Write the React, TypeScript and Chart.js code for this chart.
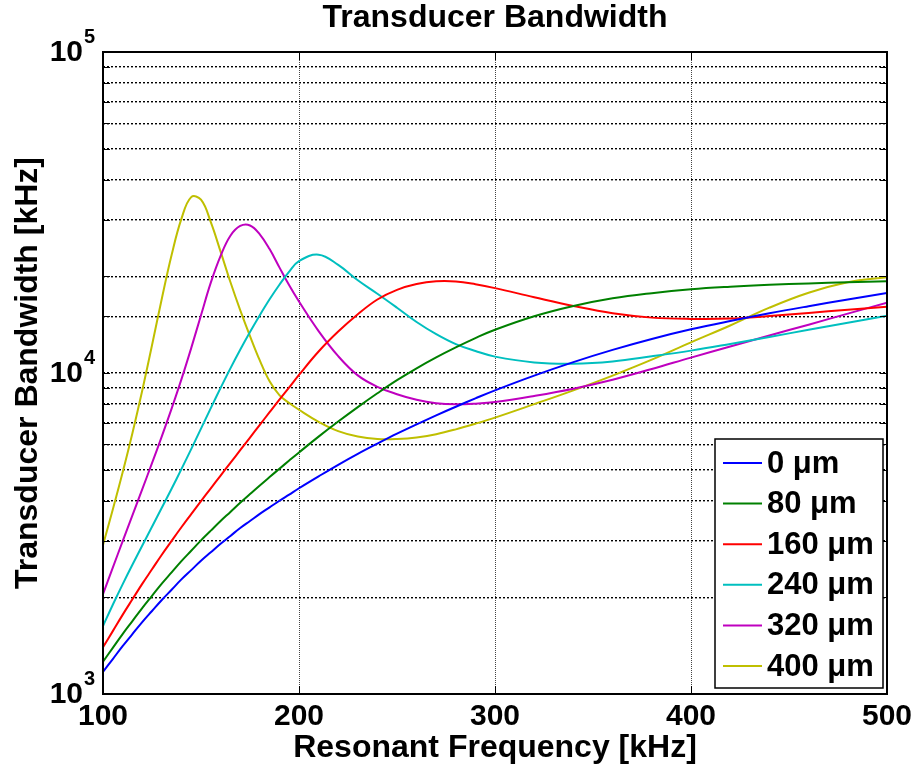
import React, { useEffect, useRef } from 'react';
import { Chart, registerables } from 'chart.js';

Chart.register(...registerables);

const FONT = "'Liberation Sans', Arial, Helvetica, sans-serif";

// Resonant frequency samples [kHz]
const freqs = [
  100, 105, 110, 115, 120, 125, 130, 135, 140, 145, 150, 155, 160, 165, 170, 175, 180, 185, 190, 195, 200,
  210, 220, 230, 240, 250, 260, 270, 280, 290, 300,
  320, 340, 360, 380, 400, 420, 440, 460, 480, 500,
];

// Transducer bandwidth [kHz] per thickness
const bw0 = [
  1172, 1285, 1409, 1537, 1675, 1814, 1963, 2113, 2275, 2432, 2600, 2764, 2938, 3108, 3289, 3459, 3639, 3815, 3999, 4182, 4375,
  4764, 5176, 5598, 6026, 6471, 6918, 7379, 7852, 8337, 8831,
  9817, 10814, 11803, 12764, 13677, 14521, 15346, 16144, 16943, 17742,
];
const bw80 = [
  1261, 1392, 1537, 1687, 1852, 2022, 2207, 2392, 2593, 2794, 3011, 3228, 3458, 3691, 3942, 4195, 4464, 4741, 5032, 5337, 5656,
  6336, 7060, 7831, 8646, 9499, 10344, 11188, 12019, 12847, 13637,
  15020, 16169, 17088, 17730, 18227, 18565, 18823, 19015, 19173, 19307,
];
const bw160 = [
  1398, 1570, 1764, 1972, 2203, 2446, 2716, 2999, 3307, 3634, 3990, 4373, 4792, 5248, 5748, 6295, 6896, 7548, 8260, 9016, 9863,
  11668, 13459, 15241, 16943, 18155, 18923, 19297, 19275, 18901, 18385,
  17219, 16173, 15346, 14877, 14740, 14774, 15049, 15382, 15740, 16092,
];
const bw240 = [
  1629, 1897, 2195, 2527, 2897, 3319, 3802, 4361, 5017, 5794, 6707, 7773, 8985, 10340, 11818, 13418, 15136, 16963, 18836, 20701, 22319,
  23369, 21727, 19450, 17660, 15976, 14421, 13213, 12303, 11709, 11246,
  10789, 10691, 10864, 11272, 11742, 12317, 12953, 13630, 14338, 15080,
];
const bw320 = [
  2045, 2475, 2990, 3603, 4341, 5237, 6347, 7746, 9552, 11957, 15139, 19122, 23174, 26763, 28708, 28814, 27040, 24322, 21330, 18750, 16691,
  13508, 11287, 9829, 9057, 8590, 8251, 8054, 7989, 8026, 8119,
  8482, 8933, 9528, 10292, 11169, 12092, 13092, 14142, 15311, 16558,
];
const bw400 = [
  2911, 3758, 4898, 6494, 8810, 12207, 17038, 23308, 30200, 35318, 34674, 29512, 23878, 19210, 15704, 13032, 10940, 9419, 8531, 8064, 7683,
  7047, 6592, 6339, 6230, 6230, 6295, 6449, 6675, 6950, 7261,
  7998, 8831, 9817, 11003, 12460, 14060, 15975, 17783, 19187, 19861,
];

const seriesLabels = ['0 \u03bcm', '80 \u03bcm', '160 \u03bcm', '240 \u03bcm', '320 \u03bcm', '400 \u03bcm'];
const seriesColors = ['#0000ff', '#008000', '#ff0000', '#00bfbf', '#bf00bf', '#bfbf00'];

const xTickValues = [100, 200, 300, 400, 500];
const yTickExponents = [3, 4, 5];

const framePlugin = {
  id: 'matlabFrame',
  afterDraw(chart: any) {
    const { ctx, chartArea: a, scales } = chart;
    const xs = scales.x;
    const ys = scales.y;
    ctx.save();
    // tick marks (inside, both sides)
    ctx.strokeStyle = '#000';
    ctx.lineWidth = 1;
    ctx.setLineDash([]);
    ctx.beginPath();
    for (const t of ys.ticks) {
      const y = Math.round(ys.getPixelForValue(t.value)) + 0.5;
      ctx.moveTo(a.left, y);
      ctx.lineTo(a.left + 7, y);
      ctx.moveTo(a.right, y);
      ctx.lineTo(a.right - 7, y);
    }
    for (const v of xTickValues) {
      const x = Math.round(xs.getPixelForValue(v)) + 0.5;
      ctx.moveTo(x, a.bottom);
      ctx.lineTo(x, a.bottom - 8);
      ctx.moveTo(x, a.top);
      ctx.lineTo(x, a.top + 8);
    }
    ctx.stroke();
    // box
    ctx.lineWidth = 2;
    ctx.strokeRect(a.left, a.top, a.right - a.left, a.bottom - a.top);

    // y tick labels 10^n
    ctx.fillStyle = '#000';
    for (const e of yTickExponents) {
      const y = ys.getPixelForValue(Math.pow(10, e));
      ctx.font = `bold 30px ${FONT}`;
      ctx.textAlign = 'right';
      ctx.textBaseline = 'middle';
      ctx.fillText('10', a.left - 20, y + 1);
      ctx.font = `bold 20px ${FONT}`;
      ctx.textAlign = 'left';
      ctx.fillText(String(e), a.left - 19, y - 15);
    }

    // legend
    const lw = 168;
    const lh = 249;
    const lx = a.right - 4 - lw;
    const ly = a.bottom - 6 - lh;
    ctx.fillStyle = '#fff';
    ctx.fillRect(lx, ly, lw, lh);
    ctx.strokeStyle = '#000';
    ctx.lineWidth = 1.5;
    ctx.strokeRect(lx, ly, lw, lh);
    chart.data.datasets.forEach((ds: any, i: number) => {
      const y = ly + 24 + i * 40.6;
      ctx.strokeStyle = ds.borderColor;
      ctx.lineWidth = 2;
      ctx.beginPath();
      ctx.moveTo(lx + 8, y);
      ctx.lineTo(lx + 47, y);
      ctx.stroke();
      ctx.fillStyle = '#000';
      ctx.font = `bold 31px ${FONT}`;
      ctx.textAlign = 'left';
      ctx.textBaseline = 'middle';
      ctx.fillText(ds.label, lx + 52, y + 1);
    });
    ctx.restore();
  },
};

export default function App() {
  const ref = useRef<HTMLCanvasElement>(null);

  useEffect(() => {
    const series = [bw0, bw80, bw160, bw240, bw320, bw400];
    const chart = new Chart(ref.current as HTMLCanvasElement, {
      type: 'line',
      data: {
        datasets: series.map((vals, i) => ({
          label: seriesLabels[i],
          data: freqs.map((f, j) => ({ x: f, y: vals[j] })),
          borderColor: seriesColors[i],
          backgroundColor: seriesColors[i],
          borderWidth: 2,
          pointRadius: 0,
          fill: false,
          tension: 0.4,
        })),
      },
      options: {
        responsive: false,
        animation: false,
        events: [],
        layout: { padding: { left: 0, right: 32, top: 0, bottom: 0 } },
        plugins: {
          legend: { display: false },
          tooltip: { enabled: false },
          title: {
            display: true,
            text: 'Transducer Bandwidth',
            color: '#000',
            fullSize: false,
            font: { family: FONT, size: 32, weight: 'bold', lineHeight: 1 },
            padding: { top: 2, bottom: 18 },
          },
        },
        scales: {
          x: {
            type: 'linear',
            min: 100,
            max: 500,
            afterBuildTicks: (scale: any) => {
              scale.ticks = xTickValues.map((v) => ({ value: v }));
            },
            afterFit: (scale: any) => {
              scale.height = 78;
            },
            ticks: {
              color: '#000',
              font: { family: FONT, size: 30, weight: 'bold' },
              padding: 5,
              maxRotation: 0,
              autoSkip: false,
            },
            grid: { color: '#444', lineWidth: 1, drawTicks: false },
            border: { display: false, dash: [1, 1] },
            title: {
              display: true,
              text: 'Resonant Frequency [kHz]',
              color: '#000',
              font: { family: FONT, size: 32, weight: 'bold' },
              padding: { top: 0, bottom: 5 },
            },
          },
          y: {
            type: 'logarithmic',
            min: 1000,
            max: 100000,
            afterFit: (scale: any) => {
              scale.width = 103;
            },
            ticks: { display: false },
            grid: { color: '#000', lineWidth: 1.4, drawTicks: false },
            border: { display: false, dash: [2, 2] },
            title: {
              display: true,
              text: 'Transducer Bandwidth [kHz]',
              color: '#000',
              font: { family: FONT, size: 32, weight: 'bold' },
              padding: { top: 9, bottom: 0 },
            },
          },
        },
      } as any,
      plugins: [framePlugin],
    });
    return () => chart.destroy();
  }, []);

  return (
    <div style={{ position: 'absolute', left: 0, top: 0, width: 919, height: 772, background: '#fff' }}>
      <canvas ref={ref} width={919} height={772} style={{ display: 'block' }} />
    </div>
  );
}
